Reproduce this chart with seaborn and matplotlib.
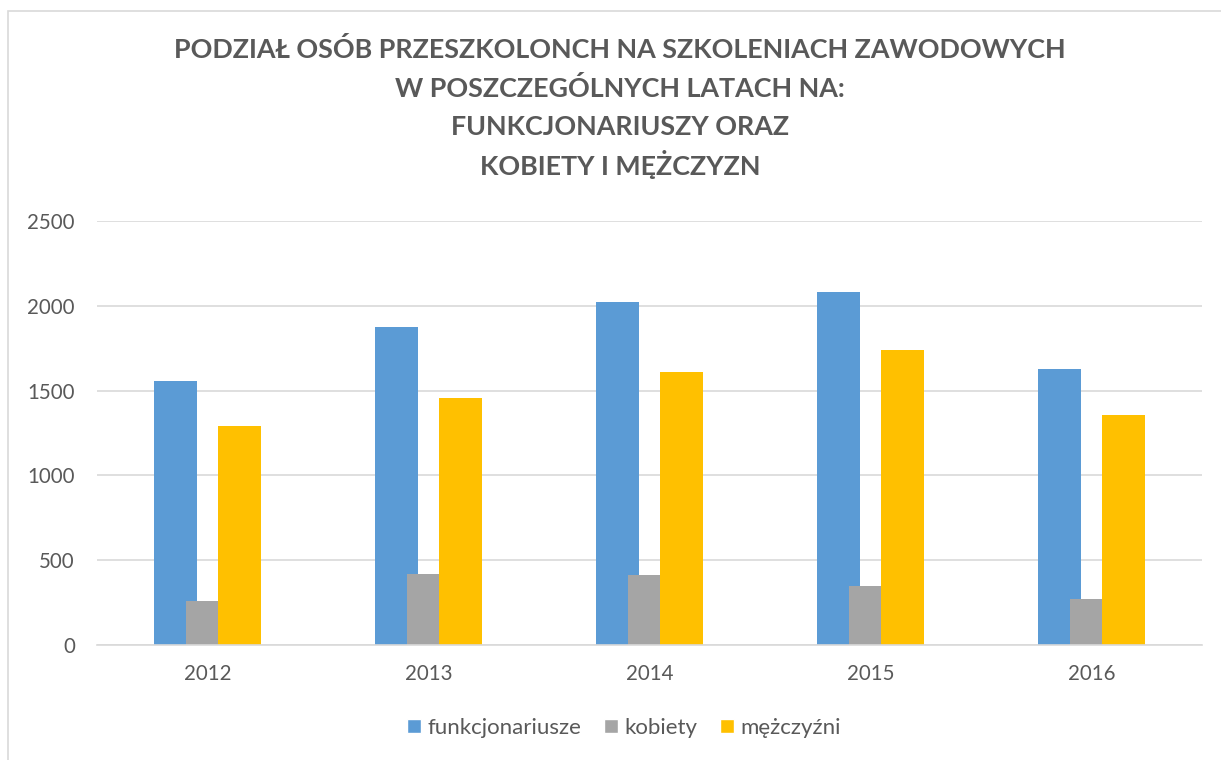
import numpy as np
import pandas as pd
import seaborn as sns
import matplotlib.pyplot as plt
from matplotlib.patches import Rectangle

# dane
lata = ['2012', '2013', '2014', '2015', '2016']
funkcjonariusze = [1555, 1876, 2025, 2082, 1628]
kobiety = [262, 420, 415, 345, 272]
mezczyzni = [1293, 1456, 1610, 1737, 1356]
serie = ['funkcjonariusze', 'kobiety', 'mężczyźni']
kolory = ['#5B9BD5', '#A5A5A5', '#FFC000']
y_ticks = [0, 500, 1000, 1500, 2000, 2500]
tytul = ['PODZIAŁ OSÓB PRZESZKOLONCH NA SZKOLENIACH ZAWODOWYCH',
         'W POSZCZEGÓLNYCH LATACH NA:',
         'FUNKCJONARIUSZY ORAZ',
         'KOBIETY I MĘŻCZYZN']

df = pd.DataFrame({
    'rok': lata * 3,
    'seria': np.repeat(serie, len(lata)),
    'liczba': funkcjonariusze + kobiety + mezczyzni,
})

sns.set_theme(style='white')
plt.rcParams['font.family'] = ['Lato', 'DejaVu Sans']
txt = '#595959'

W, H = 1221, 760
fig = plt.figure(figsize=(W / 100, H / 100), dpi=100)
ax = fig.add_axes([97 / W, 115 / H, 1105 / W, 424 / H])

sns.barplot(data=df, x='rok', y='liczba', hue='seria', hue_order=serie,
            palette=kolory, width=0.441, saturation=1, ax=ax)

# Excel-style overlapping bars: widen each bar around its centre
bw = 0.1946
for cont in ax.containers:
    for bar in cont:
        c = bar.get_x() + bar.get_width() / 2
        bar.set_width(bw)
        bar.set_x(c - bw / 2)
        bar.set_linewidth(0)

ax.set_xlim(-0.5, 4.5)
ax.set_ylim(0, 2500)
ax.set_yticks(y_ticks)
ax.yaxis.grid(True, color='#d9d9d9', lw=1.2)
ax.set_axisbelow(True)
for s in ['left', 'top', 'right']:
    ax.spines[s].set_visible(False)
ax.spines['bottom'].set_color('#d9d9d9')
ax.spines['bottom'].set_linewidth(1.2)
ax.tick_params(axis='both', length=0, colors=txt, labelsize=14.8)
ax.tick_params(axis='y', pad=16)
ax.tick_params(axis='x', pad=14)
ax.set_xlabel('')
ax.set_ylabel('')

handles, labels = ax.get_legend_handles_labels()
ax.get_legend().remove()
fig.legend(handles, labels, loc='center', bbox_to_anchor=(624 / W, 1 - 728 / H),
           ncol=3, frameon=False, fontsize=16, labelcolor=txt,
           handlelength=0.63, handleheight=0.63, handletextpad=0.3,
           columnspacing=1.0)

# tytuł - każda linia osobno, żeby odstępy były równe
for i, linia in enumerate(tytul):
    fig.text(620 / W, 1 - (50 + 38.3 * i) / H, linia, ha='center', va='center',
             fontsize=19.4, fontweight='bold', color=txt)

fig.add_artist(Rectangle((8 / W, -0.01), 1.0, 1 - 11 / H + 0.01,
                         transform=fig.transFigure, fill=False,
                         edgecolor='#d9d9d9', lw=1.2))

fig.savefig('out.png', dpi=100)
